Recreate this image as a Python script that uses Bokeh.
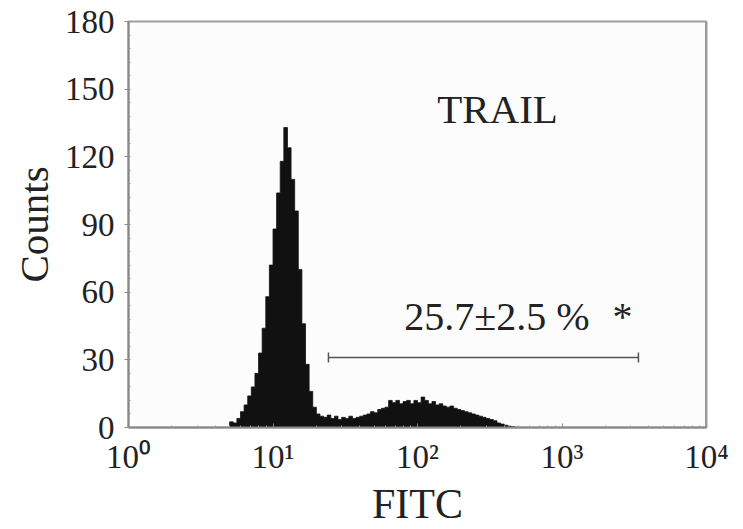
from bokeh.plotting import figure
from bokeh.models import Range1d, FixedTicker, SingleIntervalTicker, Label, Span
from bokeh.embed import file_html
from bokeh.resources import INLINE

# ---- data ----
log_start = 0.675          # log10 of the first bin's left edge
bin_width = 0.025          # bin width in decades
counts = [
    0, 2.5, 2, 4, 7, 10, 14, 18, 24, 33,
    44, 58, 72, 88, 104, 118, 133, 124, 110, 96,
    70, 46, 28, 16, 9, 6, 5, 4.5, 5.5, 4,
    5, 3.5, 4.5, 4, 5, 4, 4.5, 5, 5.5, 6,
    7, 6.5, 8, 8.5, 9, 12, 11, 12, 10.5, 11.5,
    12, 10.5, 12, 11, 13.5, 12, 10.5, 11.5, 10, 10.5,
    9.5, 9, 9.5, 8.5, 8, 7.5, 7, 6.5, 6, 5.5,
    5, 4.5, 4, 3.5, 3, 2, 1.5, 1, 0.6, 0.3,
]
y_ticks = [0, 30, 60, 90, 120, 150, 180]
x_ticks = [1, 10, 100, 1000, 10000]
x_tick_labels = ["10\u2070", "10\u00b9", "10\u00b2", "10\u00b3", "10\u2074"]
marker_range = [24.2, 3380]
marker_level = 31
title_text = "TRAIL"
pct_text = "25.7\u00b12.5 %"
x_label = "FITC"
y_label = "Counts"

edges = [10 ** (log_start + i * bin_width) for i in range(len(counts) + 1)]
# outline of the filled histogram (step shape)
px, py = [edges[0]], [0]
for i, c in enumerate(counts):
    px += [edges[i], edges[i + 1]]
    py += [c, c]
px.append(edges[-1]); py.append(0)

FONT = "Liberation Serif"
TXT = "#222222"

p = figure(x_axis_type="log", x_range=Range1d(1, 10000), y_range=Range1d(0, 180),
           frame_width=578, frame_height=406,
           min_border_left=128, min_border_top=21, min_border_right=23, min_border_bottom=96,
           output_backend="svg", toolbar_location=None)
p.background_fill_color = "#fcfcfc"
p.border_fill_color = "white"
p.outline_line_color = "#a0a0a0"
p.outline_line_width = 2
p.xgrid.visible = False
p.ygrid.visible = False

p.patch(px, py, fill_color="#111111", line_color="#111111", line_width=0.8)

# marker bar
p.segment(x0=[marker_range[0]], x1=[marker_range[1]], y0=[marker_level], y1=[marker_level],
          line_color="#555555", line_width=1.5)
p.segment(x0=marker_range, x1=marker_range, y0=[marker_level - 2.2] * 2, y1=[marker_level + 2.2] * 2,
          line_color="#555555", line_width=1.5)

# right border slightly heavier
p.add_layout(Span(location=10000, dimension="height", line_color="#999999", line_width=3))

# axes
xa = p.xaxis[0]
xa.ticker = FixedTicker(ticks=x_ticks, minor_ticks=[v * k for v in x_ticks[:-1] for k in range(2, 10)])
xa.major_label_overrides = {v: lab for v, lab in zip(x_ticks, x_tick_labels)}
ya = p.yaxis[0]
ya.ticker = SingleIntervalTicker(interval=30, num_minor_ticks=5)

for ax in (xa, ya):
    ax.axis_line_color = "#888888"
    ax.axis_line_width = 2
    ax.major_tick_line_color = "#888888"
    ax.minor_tick_line_color = "#999999"
    ax.minor_tick_in = 2
    ax.minor_tick_out = 0
    ax.major_label_text_font = FONT
    ax.major_label_text_color = TXT
    ax.major_label_text_font_size = "33px"
    ax.axis_label_text_font = FONT
    ax.axis_label_text_color = TXT
    ax.axis_label_text_font_style = "normal"

xa.major_tick_in = 4
xa.major_tick_out = 0
xa.major_label_standoff = 11
xa.axis_label = x_label
xa.axis_label_text_font_size = "42px"
xa.axis_label_standoff = 3

ya.major_tick_in = 0
ya.major_tick_out = 4
ya.major_label_standoff = 10
ya.axis_label = y_label
ya.axis_label_text_font_size = "41px"
ya.axis_label_standoff = 5

p.add_layout(Label(x=358, y=141, text=title_text, text_font=FONT, text_font_size="41px",
                   text_color=TXT, text_align="center", text_baseline="alphabetic"))
p.add_layout(Label(x=355, y=49, text=pct_text, text_font=FONT, text_font_size="40px",
                   text_color=TXT, text_align="center", text_baseline="alphabetic"))
p.add_layout(Label(x=2624, y=49, text="*", text_font=FONT, text_font_size="40px",
                   text_color=TXT, text_align="center", text_baseline="alphabetic"))

open("out.html", "w").write(file_html(p, INLINE))
